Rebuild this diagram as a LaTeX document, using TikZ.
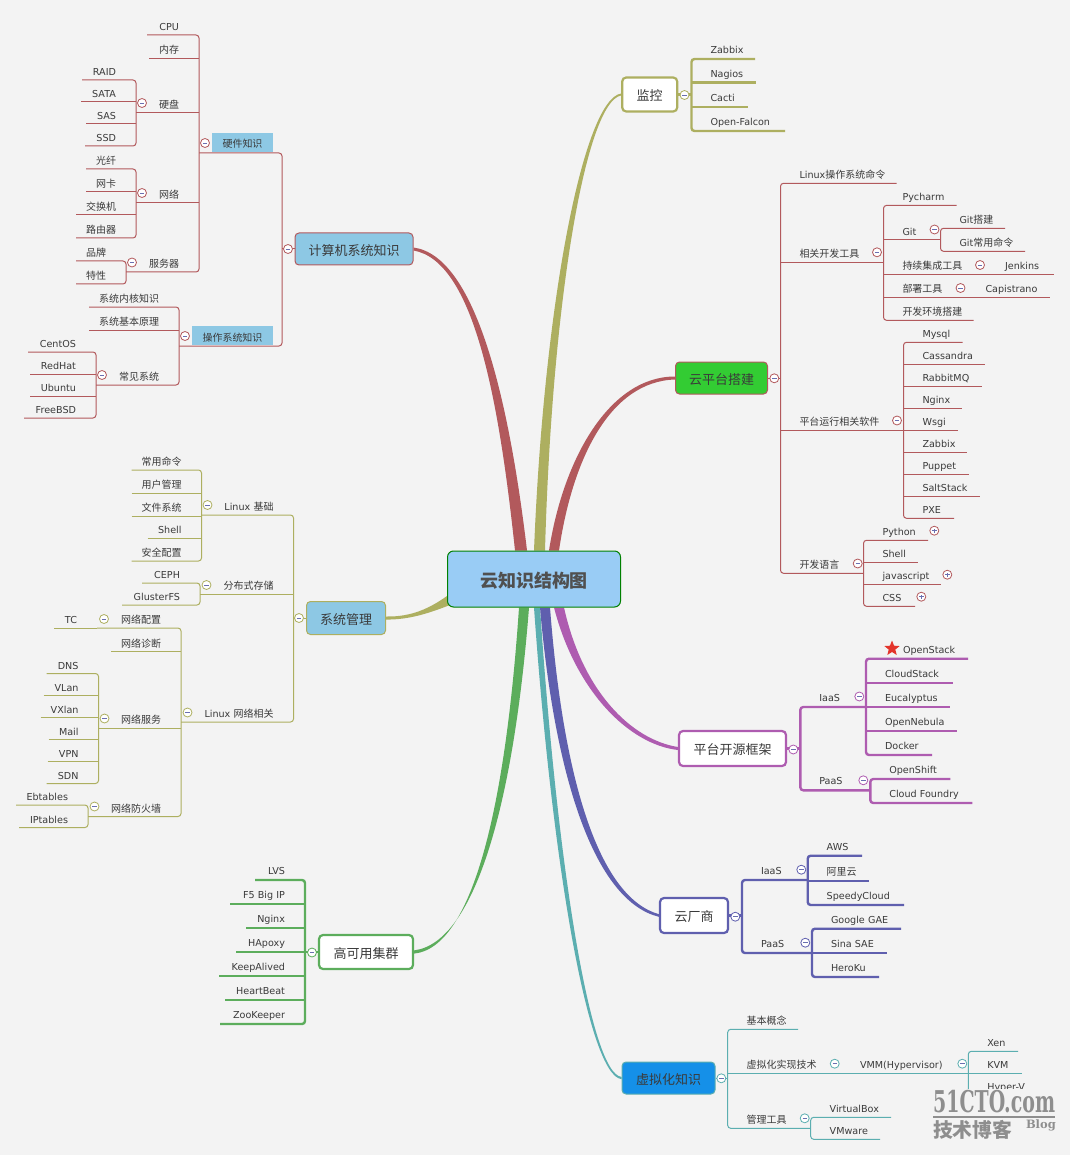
\documentclass[tikz,border=0pt]{standalone}
\usepackage{fontspec}
\usepackage{tikz}
\usetikzlibrary{shapes.geometric,backgrounds}
\setmainfont{DejaVu Sans}
\newfontfamily\cjk[Scale=1.04]{Noto Sans CJK SC}
\newfontfamily\wmfont{DejaVu Serif}
\definecolor{redb}{HTML}{B2595C}
\definecolor{oliveb}{HTML}{ADAF60}
\definecolor{purb}{HTML}{AE5CB0}
\definecolor{blueb}{HTML}{5F5FAE}
\definecolor{greenb}{HTML}{5CAD5C}
\definecolor{tealb}{HTML}{5BAEB0}
\definecolor{topicblue}{HTML}{8DC8E4}
\definecolor{rootblue}{HTML}{99CCF5}
\definecolor{cloudgreen}{HTML}{33CC33}
\definecolor{virtblue}{HTML}{1590E8}
\definecolor{starred}{HTML}{E3342B}
\definecolor{pagegray}{HTML}{F3F3F3}
\definecolor{txtgray}{HTML}{3A3A3A}
\definecolor{rootgray}{HTML}{505050}
\definecolor{markblue}{HTML}{6A6FB0}
\definecolor{wmgray}{HTML}{8E8E8E}
\tikzset{
	every node/.style={font=\fontsize{9.6}{11}\selectfont,text=txtgray},
	redline/.style={draw=redb,line width=1pt,rounded corners=3pt},
	oliveline/.style={draw=oliveb,line width=1pt,rounded corners=3pt},
	olivethick/.style={draw=oliveb,line width=2.4pt,rounded corners=3pt},
	purline/.style={draw=purb,line width=2.4pt,rounded corners=3pt},
	blueline/.style={draw=blueb,line width=2.4pt,rounded corners=3pt},
	greenline/.style={draw=greenb,line width=2.4pt,rounded corners=3pt},
	tealline/.style={draw=tealb,line width=1pt,rounded corners=3pt},
	ul/.style={append after command={(\tikzlastnode.south west) edge[#1] (\tikzlastnode.south east)}},
	lnode/.style={anchor=south east,inner sep=0,outer sep=0,text width=#1pt,align=right,minimum height=14pt,text height=7pt,text depth=2pt,execute at end node={\hspace*{20pt}}},
	rnode/.style={anchor=south west,inner sep=0,outer sep=0,text width=#1pt,align=left,minimum height=14pt,text height=7pt,text depth=2pt,execute at begin node={\hspace*{19pt}}},
	lthick/.style={lnode=#1,minimum height=16pt},
	rthick/.style={rnode=#1,minimum height=16pt},
	topic/.style={rounded corners=4pt,inner sep=0,text height=12.5pt,text depth=0pt,font=\fontsize{12.5}{14}\selectfont},
	hlabel/.style={fill=topicblue,inner sep=0,minimum height=19pt,text height=11pt,text depth=0pt},
	foldbase/.style={circle,draw=#1,fill=white,minimum size=9pt,inner sep=0,line width=.8pt},
	fold/.style={foldbase=#1,path picture={\draw[markblue,line width=.6pt] ([xshift=-2.2pt]path picture bounding box.center) -- ([xshift=2.2pt]path picture bounding box.center);}},
	foldplus/.style={foldbase=#1,path picture={\draw[markblue,line width=.6pt] ([xshift=-2.2pt]path picture bounding box.center) -- ([xshift=2.2pt]path picture bounding box.center) ([yshift=-2.2pt]path picture bounding box.center) -- ([yshift=2.2pt]path picture bounding box.center);}},
}
\begin{document}
\begin{tikzpicture}[x=1pt,y=-1pt]
	
	\path[use as bounding box] (0,0) rectangle (1070,1155);
	
	% centre and main topics
	\node[rounded corners=6pt,draw=green!50!black,line width=1pt,fill=rootblue,minimum width=173pt,minimum height=56pt,inner sep=0,text height=16pt,text depth=0pt,text=rootgray] (root) at (534,579) {\fontsize{17.3}{20}\selectfont\bfseries{\cjk 云知识结构图}};
	\node[topic,draw=redb,line width=1pt,fill=topicblue,minimum width=118pt,minimum height=32pt] (comp) at (354,249) {{\cjk 计算机系统知识}};
	\node[topic,draw=oliveb,line width=1pt,fill=topicblue,minimum width=79pt,minimum height=33pt] (sys) at (346,618) {{\cjk 系统管理}};
	\node[topic,draw=greenb,line width=2.2pt,fill=white,minimum width=94pt,minimum height=34pt] (ha) at (366,952) {{\cjk 高可用集群}};
	\node[topic,draw=oliveb,line width=2.2pt,fill=white,minimum width=55pt,minimum height=34pt] (mon) at (649.7,94.5) {{\cjk 监控}};
	\node[topic,draw=redb,line width=1pt,fill=cloudgreen,minimum width=92pt,minimum height=32pt] (cloud) at (721.5,378) {{\cjk 云平台搭建}};
	\node[topic,draw=purb,line width=2.2pt,fill=white,minimum width=107pt,minimum height=35pt] (open) at (732.5,748.5) {{\cjk 平台开源框架}};
	\node[topic,draw=blueb,line width=2.2pt,fill=white,minimum width=68pt,minimum height=35pt] (vend) at (694,915.5) {{\cjk 云厂商}};
	\node[topic,draw=tealb,line width=1pt,fill=virtblue,minimum width=93pt,minimum height=32pt] (virt) at (668.5,1078) {{\cjk 虚拟化知识}};
	
	\begin{scope}[on background layer]
		\fill[pagegray] (0,0) rectangle (1070,1155);
		\fill[redb] ([yshift=1.5pt]comp.east) .. controls (476,256) and (509,400) .. ([xshift=-7pt]root.north) -- ([xshift=-19pt]root.north) .. controls (499,400) and (474,261) .. ([yshift=-1.5pt]comp.east) -- cycle;
		\fill[oliveb] ([yshift=1pt]mon.west) .. controls (584,99.2) and (544,300) .. (root.north) -- ([xshift=11pt]root.north) .. controls (552,300) and (586,101.8) .. ([yshift=-1pt]mon.west) -- cycle;
		\fill[redb] ([yshift=1.5pt]cloud.west) .. controls (610,376.5) and (563.5,457.5) .. ([xshift=15pt]root.north) -- ([xshift=25pt]root.north) .. controls (572.5,458.5) and (610,381.5) .. ([yshift=-1.5pt]cloud.west) -- cycle;
		\fill[purb] ([yshift=1.5pt]open.west) .. controls (631,739.5) and (582.5,691) .. ([xshift=30pt]root.south) -- ([xshift=20pt]root.south) .. controls (575.5,691) and (629,744.5) .. ([yshift=-1.5pt]open.west) -- cycle;
		\fill[greenb] ([yshift=1.6pt]ha.east) .. controls (476,942.5) and (514,800) .. ([xshift=-5pt]root.south) -- ([xshift=-15pt]root.south) .. controls (506,800) and (474,947.5) .. ([yshift=-1.6pt]ha.east) -- cycle;
		\fill[tealb] ([yshift=1.1pt]virt.west) .. controls (591,1074) and (557.5,870) .. ([xshift=6pt]root.south) -- (root.south) .. controls (552.5,870) and (589,1076) .. ([yshift=-1.1pt]virt.west) -- cycle;
		\fill[blueb] ([yshift=1.3pt]vend.west) .. controls (601.5,898) and (564,789) .. ([xshift=16pt]root.south) -- ([xshift=6pt]root.south) .. controls (556,791) and (598.5,902) .. ([yshift=-1.3pt]vend.west) -- cycle;
		\fill[oliveb] ([yshift=1.5pt]sys.east) .. controls (412,617) and (430,608) .. ([yshift=-17pt]root.west) -- ([yshift=-26pt,xshift=3pt]root.west) .. controls (432,612) and (410,620) .. ([yshift=-1.5pt]sys.east) -- cycle;
	\end{scope}
	
	% hardware and system knowledge
	\node[hlabel,minimum width=61pt] (hw) at (242.5,142.5) {{\cjk 硬件知识}};
	\node[hlabel,minimum width=81pt] (os) at (232.5,335.5) {{\cjk 操作系统知识}};
	\coordinate (hwl) at (199,153);
	\coordinate (hwr) at (282,153);
	\coordinate (osl) at (179,346);
	\coordinate (osr) at (282,346);
	\node[lnode=52] (cpu) at (199,35) {CPU};
	\node[lnode=50,ul=redline] (mem) at (199,58.5) {{\cjk 内存}};
	\node[lnode=63,ul=redline] (disk) at (199,113) {{\cjk 硬盘}};
	\node[lnode=63,ul=redline] (net) at (199,203) {{\cjk 网络}};
	\node[lnode=73] (srv) at (199,272) {{\cjk 服务器}};
	\node[lnode=54] (raid) at (136,80) {RAID};
	\node[lnode=55,ul=redline] (sata) at (136,102) {SATA};
	\node[lnode=50,ul=redline] (sas) at (136,124) {SAS};
	\node[lnode=51] (ssd) at (136,146) {SSD};
	\node[lnode=50] (fiber) at (136,169) {{\cjk 光纤}};
	\node[lnode=50,ul=redline] (nic) at (136,192) {{\cjk 网卡}};
	\node[lnode=60,ul=redline] (switch) at (136,215) {{\cjk 交换机}};
	\node[lnode=60] (router) at (136,238) {{\cjk 路由器}};
	\node[lnode=50] (brand) at (126,261) {{\cjk 品牌}};
	\node[lnode=50] (feat) at (126,284) {{\cjk 特性}};
	\node[lnode=90] (kernel) at (179,307) {{\cjk 系统内核知识}};
	\node[lnode=90,ul=redline] (basic) at (179,330) {{\cjk 系统基本原理}};
	\node[lnode=83] (common) at (179,385) {{\cjk 常见系统}};
	\node[lnode=68] (centos) at (96,352) {CentOS};
	\node[lnode=66,ul=redline] (redhat) at (96,374) {RedHat};
	\node[lnode=66,ul=redline] (ubuntu) at (96,396) {Ubuntu};
	\node[lnode=72] (freebsd) at (96,418) {FreeBSD};
	
	\draw[redline] (comp.west) -- (hwr |- comp.west);
	\draw[redline] (hwl) -- (hwr) -- (osr) -- (osl);
	\draw[redline] (cpu.south west) -- (cpu.south east) -- (srv.south east) -- (srv.south west);
	\draw[redline] (raid.south west) -- (raid.south east) -- (ssd.south east) -- (ssd.south west);
	\draw[redline] (fiber.south west) -- (fiber.south east) -- (router.south east) -- (router.south west);
	\draw[redline] (brand.south west) -- (brand.south east) -- (feat.south east) -- (feat.south west);
	\draw[redline] (kernel.south west) -- (kernel.south east) -- (common.south east) -- (common.south west);
	\draw[redline] (centos.south west) -- (centos.south east) -- (freebsd.south east) -- (freebsd.south west);
	
	\node[fold=redb] (fcomp) at (288,249) {};
	\node[fold=redb] (fhw) at (205,143) {};
	\node[fold=redb] (fdisk) at (142,103) {};
	\node[fold=redb] (fnet) at (142,193) {};
	\node[fold=redb] (fsrv) at (132,262.5) {};
	\node[fold=redb] (fos) at (185,336) {};
	\node[fold=redb] (fcommon) at (102,375) {};
	
	% system admin
	\node[lnode=91.5] (lbase) at (293.5,515) {Linux {\cjk 基础}};
	\node[lnode=93.5,ul=oliveline] (dist) at (293.5,594) {{\cjk 分布式存储}};
	\node[lnode=112.5] (lnet) at (293.5,722) {Linux {\cjk 网络相关}};
	\node[lnode=70] (cmds) at (201.5,470) {{\cjk 常用命令}};
	\node[lnode=70,ul=oliveline] (users) at (201.5,493) {{\cjk 用户管理}};
	\node[lnode=70,ul=oliveline] (files) at (201.5,516) {{\cjk 文件系统}};
	\node[lnode=54,ul=oliveline] (shella) at (201.5,538) {Shell};
	\node[lnode=70] (secure) at (201.5,561) {{\cjk 安全配置}};
	\node[lnode=58] (ceph) at (200,583) {CEPH};
	\node[lnode=78] (gluster) at (200,605) {GlusterFS};
	\node[lnode=84] (netcfg) at (181,628) {{\cjk 网络配置}};
	\node[lnode=43,ul=oliveline] (tc) at (97,628) {TC};
	\node[lnode=70,ul=oliveline] (diag) at (181,651.5) {{\cjk 网络诊断}};
	\node[lnode=83,ul=oliveline] (netsrv) at (181,728) {{\cjk 网络服务}};
	\node[lnode=93] (fw) at (181,816.5) {{\cjk 网络防火墙}};
	\node[lnode=52] (dns) at (98.5,673.5) {DNS};
	\node[lnode=55,ul=oliveline] (vlan) at (98.5,695.5) {VLan};
	\node[lnode=58,ul=oliveline] (vxlan) at (98.5,717.5) {VXlan};
	\node[lnode=50,ul=oliveline] (mail) at (98.5,739.5) {Mail};
	\node[lnode=51,ul=oliveline] (vpn) at (98.5,761.5) {VPN};
	\node[lnode=52] (sdn) at (98.5,783.5) {SDN};
	\node[lnode=72] (ebt) at (88,805) {Ebtables};
	\node[lnode=69] (ipt) at (88,827.5) {IPtables};
	
	\draw[oliveline] (sys.west) -- (lbase.south east |- sys.west);
	\draw[oliveline] (lbase.south west) -- (lbase.south east) -- (lnet.south east) -- (lnet.south west);
	\draw[oliveline] (cmds.south west) -- (cmds.south east) -- (secure.south east) -- (secure.south west);
	\draw[oliveline] (ceph.south west) -- (ceph.south east) -- (gluster.south east) -- (gluster.south west);
	\draw[oliveline] (netcfg.south west) -- (netcfg.south east) -- (fw.south east) -- (fw.south west);
	\draw[oliveline] (dns.south west) -- (dns.south east) -- (sdn.south east) -- (sdn.south west);
	\draw[oliveline] (ebt.south west) -- (ebt.south east) -- (ipt.south east) -- (ipt.south west);
	
	\node[fold=oliveb] (fsys) at (299,618) {};
	\node[fold=oliveb] (flbase) at (207.5,505) {};
	\node[fold=oliveb] (fdist) at (206.5,585) {};
	\node[fold=oliveb] (flnet) at (187.5,712.5) {};
	\node[fold=oliveb] (fnetcfg) at (104,619) {};
	\node[fold=oliveb] (fnetsrv) at (104.5,718.5) {};
	\node[fold=oliveb] (ffw) at (94.5,806.5) {};
	
	% high availability
	\node[lthick=50] (lvs) at (305,880) {LVS};
	\node[lthick=75,ul=greenline] (f5) at (305,904) {F5 Big IP};
	\node[lthick=59,ul=greenline] (nginxa) at (305,928) {Nginx};
	\node[lthick=69,ul=greenline] (hapoxy) at (305,952) {HApoxy};
	\node[lthick=86,ul=greenline] (keep) at (305,976) {KeepAlived};
	\node[lthick=80,ul=greenline] (heart) at (305,1000) {HeartBeat};
	\node[lthick=85] (zoo) at (305,1024) {ZooKeeper};
	
	\draw[greenline] (ha.west) -- (lvs.south east |- ha.west);
	\draw[greenline] (lvs.south west) -- (lvs.south east) -- (zoo.south east) -- (zoo.south west);
	\node[fold=greenb] (fha) at (312,952.5) {};
	
	% monitoring
	\node[rthick=63.5] (zabbixa) at (691.5,59) {Zabbix};
	\node[rthick=64.5,ul=olivethick] (nagios) at (691.5,82.7) {Nagios};
	\node[rthick=56.5,ul=olivethick] (cacti) at (691.5,107) {Cacti};
	\node[rthick=93.5] (falcon) at (691.5,131) {Open-Falcon};
	
	\draw[olivethick] (mon.east) -- (zabbixa.south west |- mon.east);
	\draw[olivethick] (zabbixa.south east) -- (zabbixa.south west) -- (falcon.south west) -- (falcon.south east);
	\node[fold=oliveb] (fmon) at (684.5,95) {};
	
	% cloud platform
	\node[rnode=116] (lincmd) at (780.5,183.3) {Linux{\cjk 操作系统命令}};
	\node[rnode=103,ul=redline] (devtool) at (780.5,262.3) {{\cjk 相关开发工具}};
	\node[rnode=123,ul=redline] (runsoft) at (780.5,430.3) {{\cjk 平台运行相关软件}};
	\node[rnode=83] (lang) at (780.5,573.3) {{\cjk 开发语言}};
	\node[rnode=73] (pycharm) at (883.5,205.4) {Pycharm};
	\node[rnode=57,ul=redline] (git) at (883.5,239.7) {Git};
	\node[rnode=64.5] (gitb) at (940.5,228.3) {Git{\cjk 搭建}};
	\node[rnode=84.5] (gitc) at (940.5,251.3) {Git{\cjk 常用命令}};
	\node[rnode=102.5,ul=redline] (ci) at (883.5,274.3) {{\cjk 持续集成工具}};
	\node[rnode=68,ul=redline] (jenkins) at (986,274.3) {Jenkins};
	\node[rnode=83,ul=redline] (deploy) at (883.5,297.3) {{\cjk 部署工具}};
	\node[rnode=83.5,ul=redline] (capi) at (966.5,297.3) {Capistrano};
	\node[rnode=90] (devenv) at (883.5,320.3) {{\cjk 开发环境搭建}};
	\node[rnode=59] (mysql) at (903.5,342.3) {Mysql};
	\node[rnode=81.5,ul=redline] (cass) at (903.5,364.3) {Cassandra};
	\node[rnode=78,ul=redline] (rabbit) at (903.5,386.3) {RabbitMQ};
	\node[rnode=58.5,ul=redline] (nginxb) at (903.5,408.3) {Nginx};
	\node[rnode=54,ul=redline] (wsgi) at (903.5,430.3) {Wsgi};
	\node[rnode=63,ul=redline] (zabbixb) at (903.5,452.3) {Zabbix};
	\node[rnode=65,ul=redline] (puppet) at (903.5,474.3) {Puppet};
	\node[rnode=76.5,ul=redline] (salt) at (903.5,496.3) {SaltStack};
	\node[rnode=50.5] (pxe) at (903.5,518.3) {PXE};
	\node[rnode=64.5] (python) at (863.5,540.3) {Python};
	\node[rnode=54.5,ul=redline] (shellb) at (863.5,562.3) {Shell};
	\node[rnode=77.5,ul=redline] (js) at (863.5,584.3) {javascript};
	\node[rnode=51.5] (css) at (863.5,606.3) {CSS};
	
	\draw[redline] (cloud.east) -- (lincmd.south west |- cloud.east);
	\draw[redline] (lincmd.south east) -- (lincmd.south west) -- (lang.south west) -- (lang.south east);
	\draw[redline] (pycharm.south east) -- (pycharm.south west) -- (devenv.south west) -- (devenv.south east);
	\draw[redline] (gitb.south east) -- (gitb.south west) -- (gitc.south west) -- (gitc.south east);
	\draw[redline] (mysql.south east) -- (mysql.south west) -- (pxe.south west) -- (pxe.south east);
	\draw[redline] (python.south east) -- (python.south west) -- (css.south west) -- (css.south east);
	
	\node[fold=redb] (fcloud) at (774.3,378.3) {};
	\node[fold=redb] (fdev) at (877,252.3) {};
	\node[fold=redb] (fgit) at (934.5,229.5) {};
	\node[fold=redb] (fci) at (980,265) {};
	\node[fold=redb] (fdeploy) at (960.5,288) {};
	\node[fold=redb] (frun) at (897,420.5) {};
	\node[fold=redb] (flang) at (857.7,563.5) {};
	\node[foldplus=redb] (fpy) at (934.3,530.7) {};
	\node[foldplus=redb] (fjs) at (947.3,574.7) {};
	\node[foldplus=redb] (fcss) at (921.3,596.7) {};
	
	% open source platforms
	\node[rthick=66] (iaasa) at (800.3,707) {IaaS};
	\node[rthick=70] (paasa) at (800.3,790.3) {PaaS};
	\node[rthick=102] (ostack) at (866,658.7) {\hspace*{18pt}OpenStack};
	\node[rthick=87,ul=purline] (cstack) at (866,683) {CloudStack};
	\node[rthick=84,ul=purline] (euca) at (866,707) {Eucalyptus};
	\node[rthick=91,ul=purline] (nebula) at (866,731) {OpenNebula};
	\node[rthick=66] (docker) at (866,755) {Docker};
	\node[rthick=80] (oshift) at (870.3,779) {OpenShift};
	\node[rthick=102] (cfoundry) at (870.3,803) {Cloud Foundry};
	\node[star,star points=5,star point ratio=2.3,fill=starred,inner sep=0,minimum size=16pt] (ostar) at (892,648.5) {};
	
	\draw[purline] (open.east) -- (iaasa.south west |- open.east);
	\draw[purline] (iaasa.south east) -- (iaasa.south west) -- (paasa.south west) -- (paasa.south east);
	\draw[purline] (ostack.south east) -- (ostack.south west) -- (docker.south west) -- (docker.south east);
	\draw[purline] (oshift.south east) -- (oshift.south west) -- (cfoundry.south west) -- (cfoundry.south east);
	
	\node[fold=purb] (fopen) at (793.3,749.5) {};
	\node[fold=purb] (fiaasa) at (859.3,696.5) {};
	\node[fold=purb] (fpaasa) at (863.3,780.3) {};
	
	% cloud vendors
	\node[rthick=65.7] (iaasb) at (742,880) {IaaS};
	\node[rthick=70] (paasb) at (742,953) {PaaS};
	\node[rthick=54.3] (aws) at (807.7,855.7) {AWS};
	\node[rthick=61.3,ul=blueline] (aliyun) at (807.7,881) {{\cjk 阿里云}};
	\node[rthick=96.3] (speedy) at (807.7,905) {SpeedyCloud};
	\node[rthick=89] (google) at (812,928.7) {Google GAE};
	\node[rthick=75,ul=blueline] (sina) at (812,953) {Sina SAE};
	\node[rthick=67] (heroku) at (812,977) {HeroKu};
	
	\draw[blueline] (vend.east) -- (iaasb.south west |- vend.east);
	\draw[blueline] (iaasb.south east) -- (iaasb.south west) -- (paasb.south west) -- (paasb.south east);
	\draw[blueline] (aws.south east) -- (aws.south west) -- (speedy.south west) -- (speedy.south east);
	\draw[blueline] (google.south east) -- (google.south west) -- (heroku.south west) -- (heroku.south east);
	
	\node[fold=blueb] (fvend) at (735.3,916.7) {};
	\node[fold=blueb] (fiaasb) at (801.3,869.7) {};
	\node[fold=blueb] (fpaasb) at (805.3,942.7) {};
	
	% virtualization
	\node[rnode=70.3] (concept) at (727.7,1029.3) {{\cjk 基本概念}};
	\node[rnode=113.3,ul=tealline] (tech) at (727.7,1073.3) {{\cjk 虚拟化实现技术}};
	\node[rnode=127.3,ul=tealline] (vmm) at (841,1073.3) {VMM(Hypervisor)};
	\node[rnode=83] (mgmt) at (727.7,1128.3) {{\cjk 管理工具}};
	\node[rnode=49.7] (xen) at (968.3,1051.3) {Xen};
	\node[rnode=53.4,ul=tealline] (kvm) at (968.3,1073.3) {KVM};
	\node[rnode=60] (hyperv) at (968.3,1095.3) {Hyper-V};
	\node[rnode=80.3] (vbox) at (810.7,1117.3) {VirtualBox};
	\node[rnode=69.3] (vmware) at (810.7,1139.3) {VMware};
	
	\draw[tealline] (virt.east) -- (concept.south west |- virt.east);
	\draw[tealline] (concept.south east) -- (concept.south west) -- (mgmt.south west) -- (mgmt.south east);
	\draw[tealline] (xen.south east) -- (xen.south west) -- (hyperv.south west) -- (hyperv.south east);
	\draw[tealline] (vbox.south east) -- (vbox.south west) -- (vmware.south west) -- (vmware.south east);
	
	\node[fold=tealb] (fvirt) at (721.3,1078.3) {};
	\node[fold=tealb] (ftech) at (834.7,1063.7) {};
	\node[fold=tealb] (fvmm) at (962.3,1063.7) {};
	\node[fold=tealb] (fmgmt) at (804.7,1118.3) {};
	
	% watermark
	\fill[pagegray] (930,1089) rectangle (1060,1142);
	\node[anchor=south west,inner sep=0] (wmsite) at (933,1113.5) {\scalebox{.79}[1.25]{\fontsize{24}{26}\selectfont\wmfont\bfseries\color{wmgray}51CTO.com}};
	\node[anchor=north west,inner sep=0] (wmblog) at (933,1120) {\fontsize{19}{21}\selectfont\bfseries\color{wmgray}{\cjk 技术博客}};
	\node[anchor=north east,inner sep=0] (wmtag) at (1056,1120) {\fontsize{11.5}{14}\selectfont\wmfont\bfseries\color{wmgray}Blog};
	\draw[wmgray,line width=2pt] ([yshift=-3pt]wmsite.south west) -- ([yshift=-3pt]wmsite.south east);
	
\end{tikzpicture}
\end{document}
